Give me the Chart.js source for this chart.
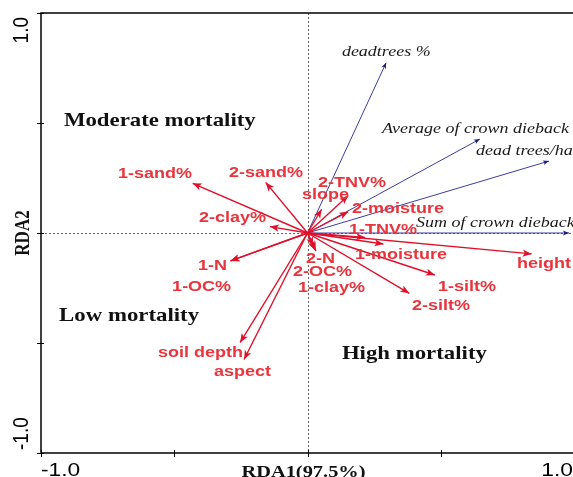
<!DOCTYPE html>
<html>
<head>
<meta charset="utf-8">
<script src="https://cdn.jsdelivr.net/npm/chart.js@4/dist/chart.umd.min.js"></script>
<style>
html,body{margin:0;padding:0;background:#fff;overflow:hidden;width:573px;height:477px;}
#wrap{width:580px;height:477px;}
</style>
</head>
<body>
<div id="wrap"><canvas id="c" width="580" height="477"></canvas></div>
<script>
// ---- data (RDA biplot scores) ----
const envNames = ['1-sand%','2-sand%','2-clay%','1-N','1-OC%','soil depth','aspect','2-TNV%','slope','2-moisture','1-TNV%','1-moisture','height','1-silt%','2-silt%','2-N','2-OC%','1-clay%'];
const envRDA1  = [-0.431,-0.157,-0.141,-0.289,-0.289,-0.253,-0.238,0.153,0.053,0.153,0.216,0.285,0.841,0.478,0.382,0.028,0.021,0.032];
const envRDA2  = [0.226,0.230,0.029,-0.127,-0.127,-0.498,-0.575,0.170,0.108,0.097,-0.020,-0.050,-0.095,-0.191,-0.274,-0.077,-0.059,-0.082];
const envLabelX = [-0.711,-0.295,-0.407,-0.411,-0.508,-0.561,-0.351,0.039,-0.021,0.167,0.156,0.178,0.786,0.490,0.392,-0.006,-0.054,-0.036];
const envLabelY = [0.268,0.273,0.070,-0.149,-0.244,-0.544,-0.630,0.229,0.173,0.109,0.014,-0.100,-0.142,-0.244,-0.330,-0.118,-0.176,-0.249];

const respNames = ['deadtrees %','Average of crown dieback','dead trees/ha','Sum of crown dieback'];
const respRDA1  = [0.295,0.647,0.906,0.981];
const respRDA2  = [0.774,0.427,0.327,0.000];
const respLabelX = [0.129,0.280,0.632,0.407];
const respLabelY = [0.823,0.473,0.373,0.045];

const groupNames = ['Moderate mortality','Low mortality','High mortality'];
const groupX = [-0.914,-0.932,0.129];
const groupY = [0.509,-0.377,-0.550];

const xTicks = [-1,-0.5,0,0.5,1];
const yTicks = [-1,-0.5,0,0.5,1];
const xTickLabels = ['-1.0','','','','1.0'];
const yTickLabels = ['-1.0','','','','1.0'];
const xTitle = 'RDA1(97.5%)';
const yTitle = 'RDA2';

// ---- styles ----
const RED_LINE = '#e0102a';
const RED_TEXT = '#e8343c';
const BLUE_LINE = '#3c3ca0';
const BLUE_HEAD = '#1a1a80';
const SX = 1.2; // horizontal stretch of text

const datasets = [];
envNames.forEach((n,i)=>{
  datasets.push({label:n, data:[{x:0,y:0},{x:envRDA1[i],y:envRDA2[i]}], showLine:true,
    borderColor:RED_LINE, borderWidth:1.4, pointRadius:0, fill:false, kind:'env'});
});
respNames.forEach((n,i)=>{
  datasets.push({label:n, data:[{x:0,y:0},{x:respRDA1[i],y:respRDA2[i]}], showLine:true,
    borderColor:BLUE_LINE, borderWidth:1, pointRadius:0, fill:false, kind:'resp'});
});

function txt(ctx, s, x, y, font, color, align, baseline, rot){
  ctx.save();
  ctx.translate(x,y);
  ctx.scale(SX,1);
  if(rot) ctx.rotate(rot);
  ctx.font = font; ctx.fillStyle = color;
  ctx.textAlign = align; ctx.textBaseline = baseline;
  ctx.fillText(s,0,0);
  ctx.restore();
}

const biplot = {
  id:'biplot',
  beforeDatasetsDraw(chart){
    const ctx = chart.ctx, a = chart.chartArea, xs = chart.scales.x, ys = chart.scales.y;
    ctx.save();
    ctx.strokeStyle = '#666'; ctx.lineWidth = 1; ctx.setLineDash([2,2]);
    const x0 = Math.round(xs.getPixelForValue(0))+0.5, y0 = Math.round(ys.getPixelForValue(0))+0.5;
    ctx.beginPath(); ctx.moveTo(x0,a.top); ctx.lineTo(x0,a.bottom); ctx.stroke();
    ctx.beginPath(); ctx.moveTo(a.left,y0); ctx.lineTo(a.right,y0); ctx.stroke();
    ctx.restore();
  },
  afterDatasetsDraw(chart){
    const ctx = chart.ctx, a = chart.chartArea, xs = chart.scales.x, ys = chart.scales.y;
    // arrowheads
    chart.data.datasets.forEach(ds=>{
      const p0 = ds.data[0], p1 = ds.data[1];
      const x0 = xs.getPixelForValue(p0.x), y0 = ys.getPixelForValue(p0.y);
      const x1 = xs.getPixelForValue(p1.x), y1 = ys.getPixelForValue(p1.y);
      const ang = Math.atan2(y1-y0, x1-x0);
      const L = ds.kind==='env' ? 9 : 6, W = ds.kind==='env' ? 3.6 : 2.4;
      ctx.save();
      ctx.fillStyle = ds.kind==='env' ? RED_LINE : BLUE_HEAD;
      ctx.translate(x1,y1); ctx.rotate(ang);
      ctx.beginPath(); ctx.moveTo(0,0); ctx.lineTo(-L,-W); ctx.lineTo(-L*0.75,0); ctx.lineTo(-L,W); ctx.closePath(); ctx.fill();
      ctx.restore();
    });
    // labels
    envNames.forEach((n,i)=>{
      txt(ctx, n, xs.getPixelForValue(envLabelX[i]), ys.getPixelForValue(envLabelY[i]),
        'bold 15px "Liberation Sans", Arial, sans-serif', RED_TEXT, 'left', 'middle');
    });
    respNames.forEach((n,i)=>{
      txt(ctx, n, xs.getPixelForValue(respLabelX[i]), ys.getPixelForValue(respLabelY[i]),
        'italic 15px "Liberation Serif", "Times New Roman", serif', '#1a1a1a', 'left', 'middle');
    });
    groupNames.forEach((n,i)=>{
      txt(ctx, n, xs.getPixelForValue(groupX[i]), ys.getPixelForValue(groupY[i]),
        'bold 19px "Liberation Serif", "Times New Roman", serif', '#111', 'left', 'middle');
    });
  },
  afterDraw(chart){
    const ctx = chart.ctx, a = chart.chartArea, xs = chart.scales.x, ys = chart.scales.y;
    ctx.save();
    ctx.strokeStyle = '#000'; ctx.lineWidth = 1.5; ctx.setLineDash([]);
    ctx.strokeRect(a.left, a.top, a.right-a.left, a.bottom-a.top);
    ctx.lineWidth = 1;
    xTicks.forEach(v=>{
      const px = Math.round(xs.getPixelForValue(v))+0.5;
      ctx.beginPath(); ctx.moveTo(px,a.bottom-3); ctx.lineTo(px,a.bottom+4); ctx.stroke();
    });
    yTicks.forEach(v=>{
      const py = Math.round(ys.getPixelForValue(v))+0.5;
      ctx.beginPath(); ctx.moveTo(a.left-4,py); ctx.lineTo(a.left+3,py); ctx.stroke();
    });
    ctx.restore();
    const tf = '19px "Liberation Sans", Arial, sans-serif';
    xTicks.forEach((v,i)=>{
      if(!xTickLabels[i]) return;
      const px = xs.getPixelForValue(v);
      if(i===0) txt(ctx, xTickLabels[i], px, a.bottom+8, tf, '#000', 'left', 'top');
      else if(i===xTicks.length-1) txt(ctx, xTickLabels[i], 573, a.bottom+8, tf, '#000', 'right', 'top');
      else txt(ctx, xTickLabels[i], px, a.bottom+8, tf, '#000', 'center', 'top');
    });
    yTicks.forEach((v,i)=>{
      if(!yTickLabels[i]) return;
      const py = ys.getPixelForValue(v);
      if(i===0) txt(ctx, yTickLabels[i], 22, py-3, tf, '#000', 'left', 'middle', -Math.PI/2);
      else if(i===yTicks.length-1) txt(ctx, yTickLabels[i], 22, py+4, tf, '#000', 'right', 'middle', -Math.PI/2);
      else txt(ctx, yTickLabels[i], 22, py, tf, '#000', 'center', 'middle', -Math.PI/2);
    });
    const titleFont = 'bold 17px "Liberation Serif", "Times New Roman", serif';
    txt(ctx, xTitle, (a.left+a.right)/2 - 4, 477, titleFont, '#111', 'center', 'alphabetic');
    txt(ctx, yTitle, 24, ys.getPixelForValue(0), titleFont, '#111', 'center', 'middle', -Math.PI/2);
  }
};

new Chart(document.getElementById('c'), {
  type:'scatter',
  data:{datasets},
  options:{
    responsive:false, animation:false,
    layout:{padding:{left:41, right:6, top:13, bottom:24}},
    plugins:{legend:{display:false}, tooltip:{enabled:false}},
    scales:{
      x:{type:'linear', min:-1, max:1, display:false},
      y:{type:'linear', min:-1, max:1, display:false}
    }
  },
  plugins:[biplot]
});
</script>
</body>
</html>
